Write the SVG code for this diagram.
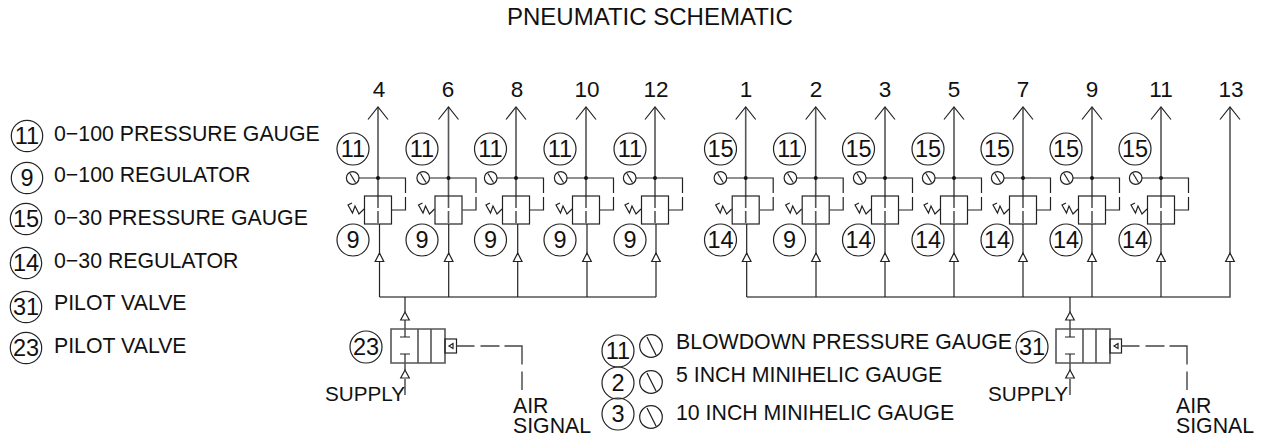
<svg xmlns="http://www.w3.org/2000/svg" xmlns:xlink="http://www.w3.org/1999/xlink" width="1265" height="441" viewBox="0 0 1265 441">
<style>
text{font-family:"Liberation Sans",Arial,sans-serif;font-size:21.3px;fill:#111}
.c{text-anchor:middle;font-size:22.500px}
.n{text-anchor:middle;font-size:23.500px}
.t{font-size:24px}
.s{font-size:20.700px}
.b{fill:#fff;stroke:#222;stroke-width:1.2}
.l{fill:none;stroke:#222;stroke-width:1.2}
.h{fill:none;stroke:#555;stroke-width:1.6}
.d{fill:none;stroke:#444;stroke-width:1.4;stroke-dasharray:18 6 19 5 36 7 19}
.o{fill:none;stroke:#222;stroke-width:1.2}
</style>
<defs>
<g id="reg">
<path class="h" d="M0 107V196"/>
<path class="l" d="M-10 119.500L0 107L10 119.500"/>
<path class="h" d="M0 196V224" stroke-dasharray="12 3"/>
<path class="l" d="M-19 178H27.500V193M27.500 197V210H14"/>
<circle cx="0" cy="178" r="2" fill="#111"/>
<circle class="l" cx="-25.300" cy="178" r="6.300"/>
<path class="l" d="M-28 173.500L-22.500 182.500"/>
<rect class="l" x="-13.500" y="196" width="27" height="28"/>
<path class="l" d="M-14 209L-19 214L-23 206L-25.500 213L-30 205L-26 203"/>
</g>
<g id="feed">
<path class="l" d="M0 224V297"/>
<path class="b" d="M0 253L-4.300 261.500H4.300Z"/>
</g>
<g id="valve">
<path class="l" d="M0 297V312M0 320V337M-5 337H5M-5 354H5M0 354V370M0 379V395"/>
<path class="b" d="M0 312L-4.300 320H4.300Z"/>
<path class="b" d="M0 370L-4.300 378H4.300Z"/>
<path class="h" d="M-14 329H40V363H-14ZM13 329V363M26 329V363" stroke-width="1.300"/>
<rect class="l" x="40" y="339" width="11.500" height="14"/>
<path class="l" d="M48 343.500L44 346L48 348.500Z"/>
<path class="d" d="M51.500 346H117V390"/>
</g>
</defs>

<text class="t" x="507" y="25">PNEUMATIC SCHEMATIC</text>

<g id="legend">
<circle class="o" cx="27" cy="136" r="15.700"/><text class="n" x="27" y="144">11</text><text x="54" y="141">0−100 PRESSURE GAUGE</text>
<circle class="o" cx="27" cy="178" r="15.700"/><text class="n" x="27" y="186">9</text><text x="54" y="182">0−100 REGULATOR</text>
<circle class="o" cx="26" cy="219" r="15.700"/><text class="n" x="26" y="227">15</text><text x="54" y="225">0−30 PRESSURE GAUGE</text>
<circle class="o" cx="26" cy="263" r="15.700"/><text class="n" x="26" y="271">14</text><text x="54" y="268">0−30 REGULATOR</text>
<circle class="o" cx="26" cy="307" r="15.700"/><text class="n" x="26" y="315">31</text><text x="54" y="310">PILOT VALVE</text>
<circle class="o" cx="26" cy="348" r="15.700"/><text class="n" x="26" y="356">23</text><text x="54" y="353">PILOT VALVE</text>
</g>

<g id="connectors">
<path class="h" d="M379.500 297H656"/>
<path class="h" d="M746.700 297H1230V261"/>
<path class="h" d="M1230 107V253"/>
<path class="l" d="M1220 119.500L1230 107L1240 119.500"/>
<path class="b" d="M1230 253L1225.700 261.500H1234.300Z"/>
<use xlink:href="#feed" href="#feed" x="379.500"/>
<use xlink:href="#feed" href="#feed" x="448.700"/>
<use xlink:href="#feed" href="#feed" x="517.700"/>
<use xlink:href="#feed" href="#feed" x="587"/>
<use xlink:href="#feed" href="#feed" x="656"/>
<use xlink:href="#feed" href="#feed" x="746.700"/>
<use xlink:href="#feed" href="#feed" x="816"/>
<use xlink:href="#feed" href="#feed" x="885"/>
<use xlink:href="#feed" href="#feed" x="954"/>
<use xlink:href="#feed" href="#feed" x="1023"/>
<use xlink:href="#feed" href="#feed" x="1092"/>
<use xlink:href="#feed" href="#feed" x="1161"/>
</g>

<g id="col4"><use xlink:href="#reg" href="#reg" x="378"/><text class="c" x="379" y="97">4</text><circle class="o" cx="353" cy="149" r="16"/><text class="n" x="353" y="157">11</text><circle class="o" cx="353" cy="240" r="16"/><text class="n" x="353" y="248">9</text></g>
<g id="col6"><use xlink:href="#reg" href="#reg" x="448.500"/><text class="c" x="448" y="97">6</text><circle class="o" cx="422" cy="149" r="16"/><text class="n" x="422" y="157">11</text><circle class="o" cx="422" cy="240" r="16"/><text class="n" x="422" y="248">9</text></g>
<g id="col8"><use xlink:href="#reg" href="#reg" x="516"/><text class="c" x="517" y="97">8</text><circle class="o" cx="490.500" cy="149" r="16"/><text class="n" x="490.500" y="157">11</text><circle class="o" cx="490.500" cy="240" r="16"/><text class="n" x="490.500" y="248">9</text></g>
<g id="col10"><use xlink:href="#reg" href="#reg" x="586"/><text class="c" x="587" y="97">10</text><circle class="o" cx="560" cy="149" r="16"/><text class="n" x="560" y="157">11</text><circle class="o" cx="560" cy="240" r="16"/><text class="n" x="560" y="248">9</text></g>
<g id="col12"><use xlink:href="#reg" href="#reg" x="655"/><text class="c" x="656" y="97">12</text><circle class="o" cx="630" cy="149" r="16"/><text class="n" x="630" y="157">11</text><circle class="o" cx="630" cy="240" r="16"/><text class="n" x="630" y="248">9</text></g>
<g id="col1"><use xlink:href="#reg" href="#reg" x="745.700"/><text class="c" x="746" y="97">1</text><circle class="o" cx="720.500" cy="149" r="16"/><text class="n" x="720.500" y="157">15</text><circle class="o" cx="720.500" cy="240" r="16"/><text class="n" x="720.500" y="248">14</text></g>
<g id="col2"><use xlink:href="#reg" href="#reg" x="815.700"/><text class="c" x="816" y="97">2</text><circle class="o" cx="789.500" cy="149" r="16"/><text class="n" x="789.500" y="157">11</text><circle class="o" cx="789.500" cy="240" r="16"/><text class="n" x="789.500" y="248">9</text></g>
<g id="col3"><use xlink:href="#reg" href="#reg" x="885"/><text class="c" x="885" y="97">3</text><circle class="o" cx="858.500" cy="149" r="16"/><text class="n" x="858.500" y="157">15</text><circle class="o" cx="858.500" cy="240" r="16"/><text class="n" x="858.500" y="248">14</text></g>
<g id="col5"><use xlink:href="#reg" href="#reg" x="954"/><text class="c" x="954" y="97">5</text><circle class="o" cx="928" cy="149" r="16"/><text class="n" x="928" y="157">15</text><circle class="o" cx="928" cy="240" r="16"/><text class="n" x="928" y="248">14</text></g>
<g id="col7"><use xlink:href="#reg" href="#reg" x="1023"/><text class="c" x="1023" y="97">7</text><circle class="o" cx="997" cy="149" r="16"/><text class="n" x="997" y="157">15</text><circle class="o" cx="997" cy="240" r="16"/><text class="n" x="997" y="248">14</text></g>
<g id="col9"><use xlink:href="#reg" href="#reg" x="1092"/><text class="c" x="1092" y="97">9</text><circle class="o" cx="1066" cy="149" r="16"/><text class="n" x="1066" y="157">15</text><circle class="o" cx="1066" cy="240" r="16"/><text class="n" x="1066" y="248">14</text></g>
<g id="col11"><use xlink:href="#reg" href="#reg" x="1161"/><text class="c" x="1161" y="97">11</text><circle class="o" cx="1135" cy="149" r="16"/><text class="n" x="1135" y="157">15</text><circle class="o" cx="1135" cy="240" r="16"/><text class="n" x="1135" y="248">14</text></g>
<g id="col13"><text class="c" x="1231" y="97">13</text></g>

<g id="valve23"><use xlink:href="#valve" href="#valve" x="405"/><circle class="o" cx="366" cy="347" r="16"/><text class="n" x="366" y="355">23</text><text class="s" x="325" y="401">SUPPLY</text><text x="513" y="413">AIR<tspan x="513" y="433">SIGNAL</tspan></text></g>
<g id="valve31"><use xlink:href="#valve" href="#valve" x="1070"/><circle class="o" cx="1032" cy="347" r="16"/><text class="n" x="1032" y="355">31</text><text class="s" x="988" y="401">SUPPLY</text><text x="1176" y="413">AIR<tspan x="1176" y="433">SIGNAL</tspan></text></g>

<g id="key">
<circle class="o" cx="618" cy="351" r="16"/><text class="n" x="618" y="359">11</text>
<circle class="o" cx="651" cy="346" r="11.300"/><path class="l" d="M647 337L656 355"/>
<text x="676" y="349">BLOWDOWN PRESSURE GAUGE</text>
<circle class="o" cx="618" cy="383" r="16"/><text class="n" x="618" y="391">2</text>
<circle class="o" cx="651" cy="382" r="11.300"/><path class="l" d="M647 373L656 391"/>
<text x="676" y="382">5 INCH MINIHELIC GAUGE</text>
<circle class="o" cx="618" cy="414" r="16"/><text class="n" x="618" y="422">3</text>
<circle class="o" cx="651" cy="417" r="11.300"/><path class="l" d="M647 408L656 426"/>
<text x="676" y="420">10 INCH MINIHELIC GAUGE</text>
</g>
</svg>
